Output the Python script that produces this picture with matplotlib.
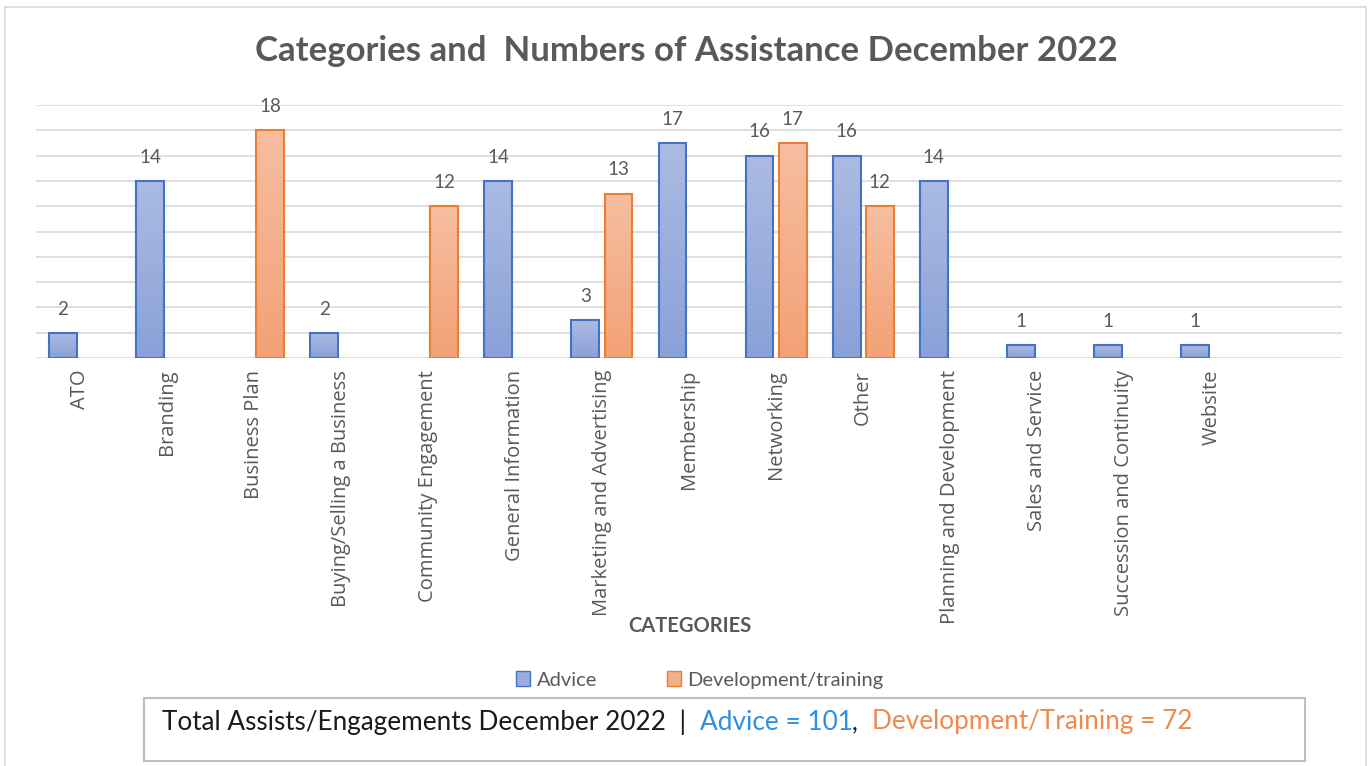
import numpy as np
import matplotlib.pyplot as plt
from matplotlib.patches import Rectangle, Patch
from matplotlib.colors import LinearSegmentedColormap

categories = ["ATO", "Branding", "Business Plan", "Buying/Selling a Business",
              "Community Engagement", "General Information", "Marketing and Advertising",
              "Membership", "Networking", "Other", "Planning and Development",
              "Sales and Service", "Succession and Continuity", "Website"]
advice = [2, 14, 0, 2, 0, 14, 3, 17, 16, 16, 14, 1, 1, 1]
development = [0, 0, 18, 0, 12, 0, 13, 0, 17, 12, 0, 0, 0, 0]
series_names = ["Advice", "Development/training"]
totals = {"Advice": 101, "Development/Training": 72}

FONT = ["Lato", "DejaVu Sans"]
GRAY = "#595959"

plt.rcParams['font.family'] = FONT

fig = plt.figure(figsize=(13.72, 7.66), dpi=100)
W, H = 1372, 766

# outer chart border
fig.add_artist(Rectangle((5 / W, -0.01), 1361 / W, 1 - 7 / H + 0.01,
                         transform=fig.transFigure, fill=False,
                         edgecolor="#d9d9d9", linewidth=1.2))

ax = fig.add_axes([36 / W, 1 - 358 / H, (1342 - 36) / W, (358 - 105) / H])

x = np.arange(len(categories))
width = 0.32
offset = 0.19

blue_cmap = LinearSegmentedColormap.from_list("b", ["#8aa1d8", "#abbbe2"])
orange_cmap = LinearSegmentedColormap.from_list("o", ["#f3a176", "#f6bea0"])
grad = np.linspace(0, 1, 100).reshape(-1, 1)


def draw_series(xpos, vals, cmap, edge):
    # zero values get no bar at all (no outline on the baseline)
    vals = np.asarray(vals)
    keep = vals > 0
    bars = ax.bar(xpos[keep], vals[keep], width, color="none", edgecolor=edge,
                  linewidth=1.5, zorder=3)
    for b, v in zip(bars, vals[keep]):
        x0, y0 = b.get_x(), b.get_y()
        ax.imshow(grad, extent=[x0, x0 + b.get_width(), y0, y0 + b.get_height()],
                  origin="lower", cmap=cmap, aspect="auto", zorder=2,
                  interpolation="bilinear")
        ax.text(b.get_x() + b.get_width() / 2, v + 1.2, str(v), ha="center",
                va="bottom", fontsize=13.5, color=GRAY)
    return bars


draw_series(x - offset, advice, blue_cmap, "#4472c4")
draw_series(x + offset, development, orange_cmap, "#ed7d31")

ax.set_xlim(-0.5, 14.5)
ax.set_ylim(0, 20)
ax.set_yticks(np.arange(0, 21, 2))
ax.yaxis.grid(True, color="#d9d9d9", linewidth=1.2, zorder=0)
ax.set_axisbelow(True)
ax.tick_params(axis="y", left=False, labelleft=False)
ax.tick_params(axis="x", bottom=False, pad=5)
ax.set_xticks(x)
ax.set_xticklabels(categories, rotation=90, fontsize=14.5, color=GRAY, va="top",
                   family=["Open Sans", "DejaVu Sans"])
for s in ax.spines.values():
    s.set_visible(False)

fig.text(0.5, 1 - 51 / H, "Categories and  Numbers of Assistance December 2022",
         ha="center", va="center", fontsize=25, fontweight="bold", color=GRAY)
fig.text(690 / W, 1 - 626 / H, "CATEGORIES", ha="center", va="center",
         fontsize=14.5, fontweight="bold", color=GRAY)

# legend
handles = [Patch(facecolor="#98addc", edgecolor="#4472c4"),
           Patch(facecolor="#f4b08b", edgecolor="#ed7d31")]
fig.legend(handles, series_names, loc="center", bbox_to_anchor=(700 / W, 1 - 680 / H),
           ncol=2, frameon=False, fontsize=14.5, labelcolor=GRAY,
           handlelength=0.7, handleheight=0.7, handletextpad=0.3, columnspacing=3.5)

# summary box
fig.add_artist(Rectangle((144 / W, 1 - 761 / H), (1305 - 144) / W, (761 - 698) / H,
                         transform=fig.transFigure, fill=False,
                         edgecolor="#bfbfbf", linewidth=1.5))
ty = 1 - 722 / H
fs = 18.8
t = fig.text(162 / W, ty, "Total Assists/Engagements December 2022  |  ",
             ha="left", va="center", fontsize=fs, color="#1a1a1a")
fig.canvas.draw()
r = fig.canvas.get_renderer()
bb = t.get_window_extent(r)
t2 = fig.text(bb.x1 / W, ty, "Advice = %d" % totals["Advice"], ha="left", va="center",
              fontsize=fs, color="#2f8fe0")
bb = t2.get_window_extent(r)
t3 = fig.text(bb.x1 / W, ty, ",  ", ha="left", va="center", fontsize=fs, color="#1a1a1a")
bb = t3.get_window_extent(r)
fig.text(bb.x1 / W, ty, "Development/Training = %d" % totals["Development/Training"],
         ha="left", va="center", fontsize=fs, color="#f08a4b")

fig.savefig("out.png", dpi=100, facecolor="white")
